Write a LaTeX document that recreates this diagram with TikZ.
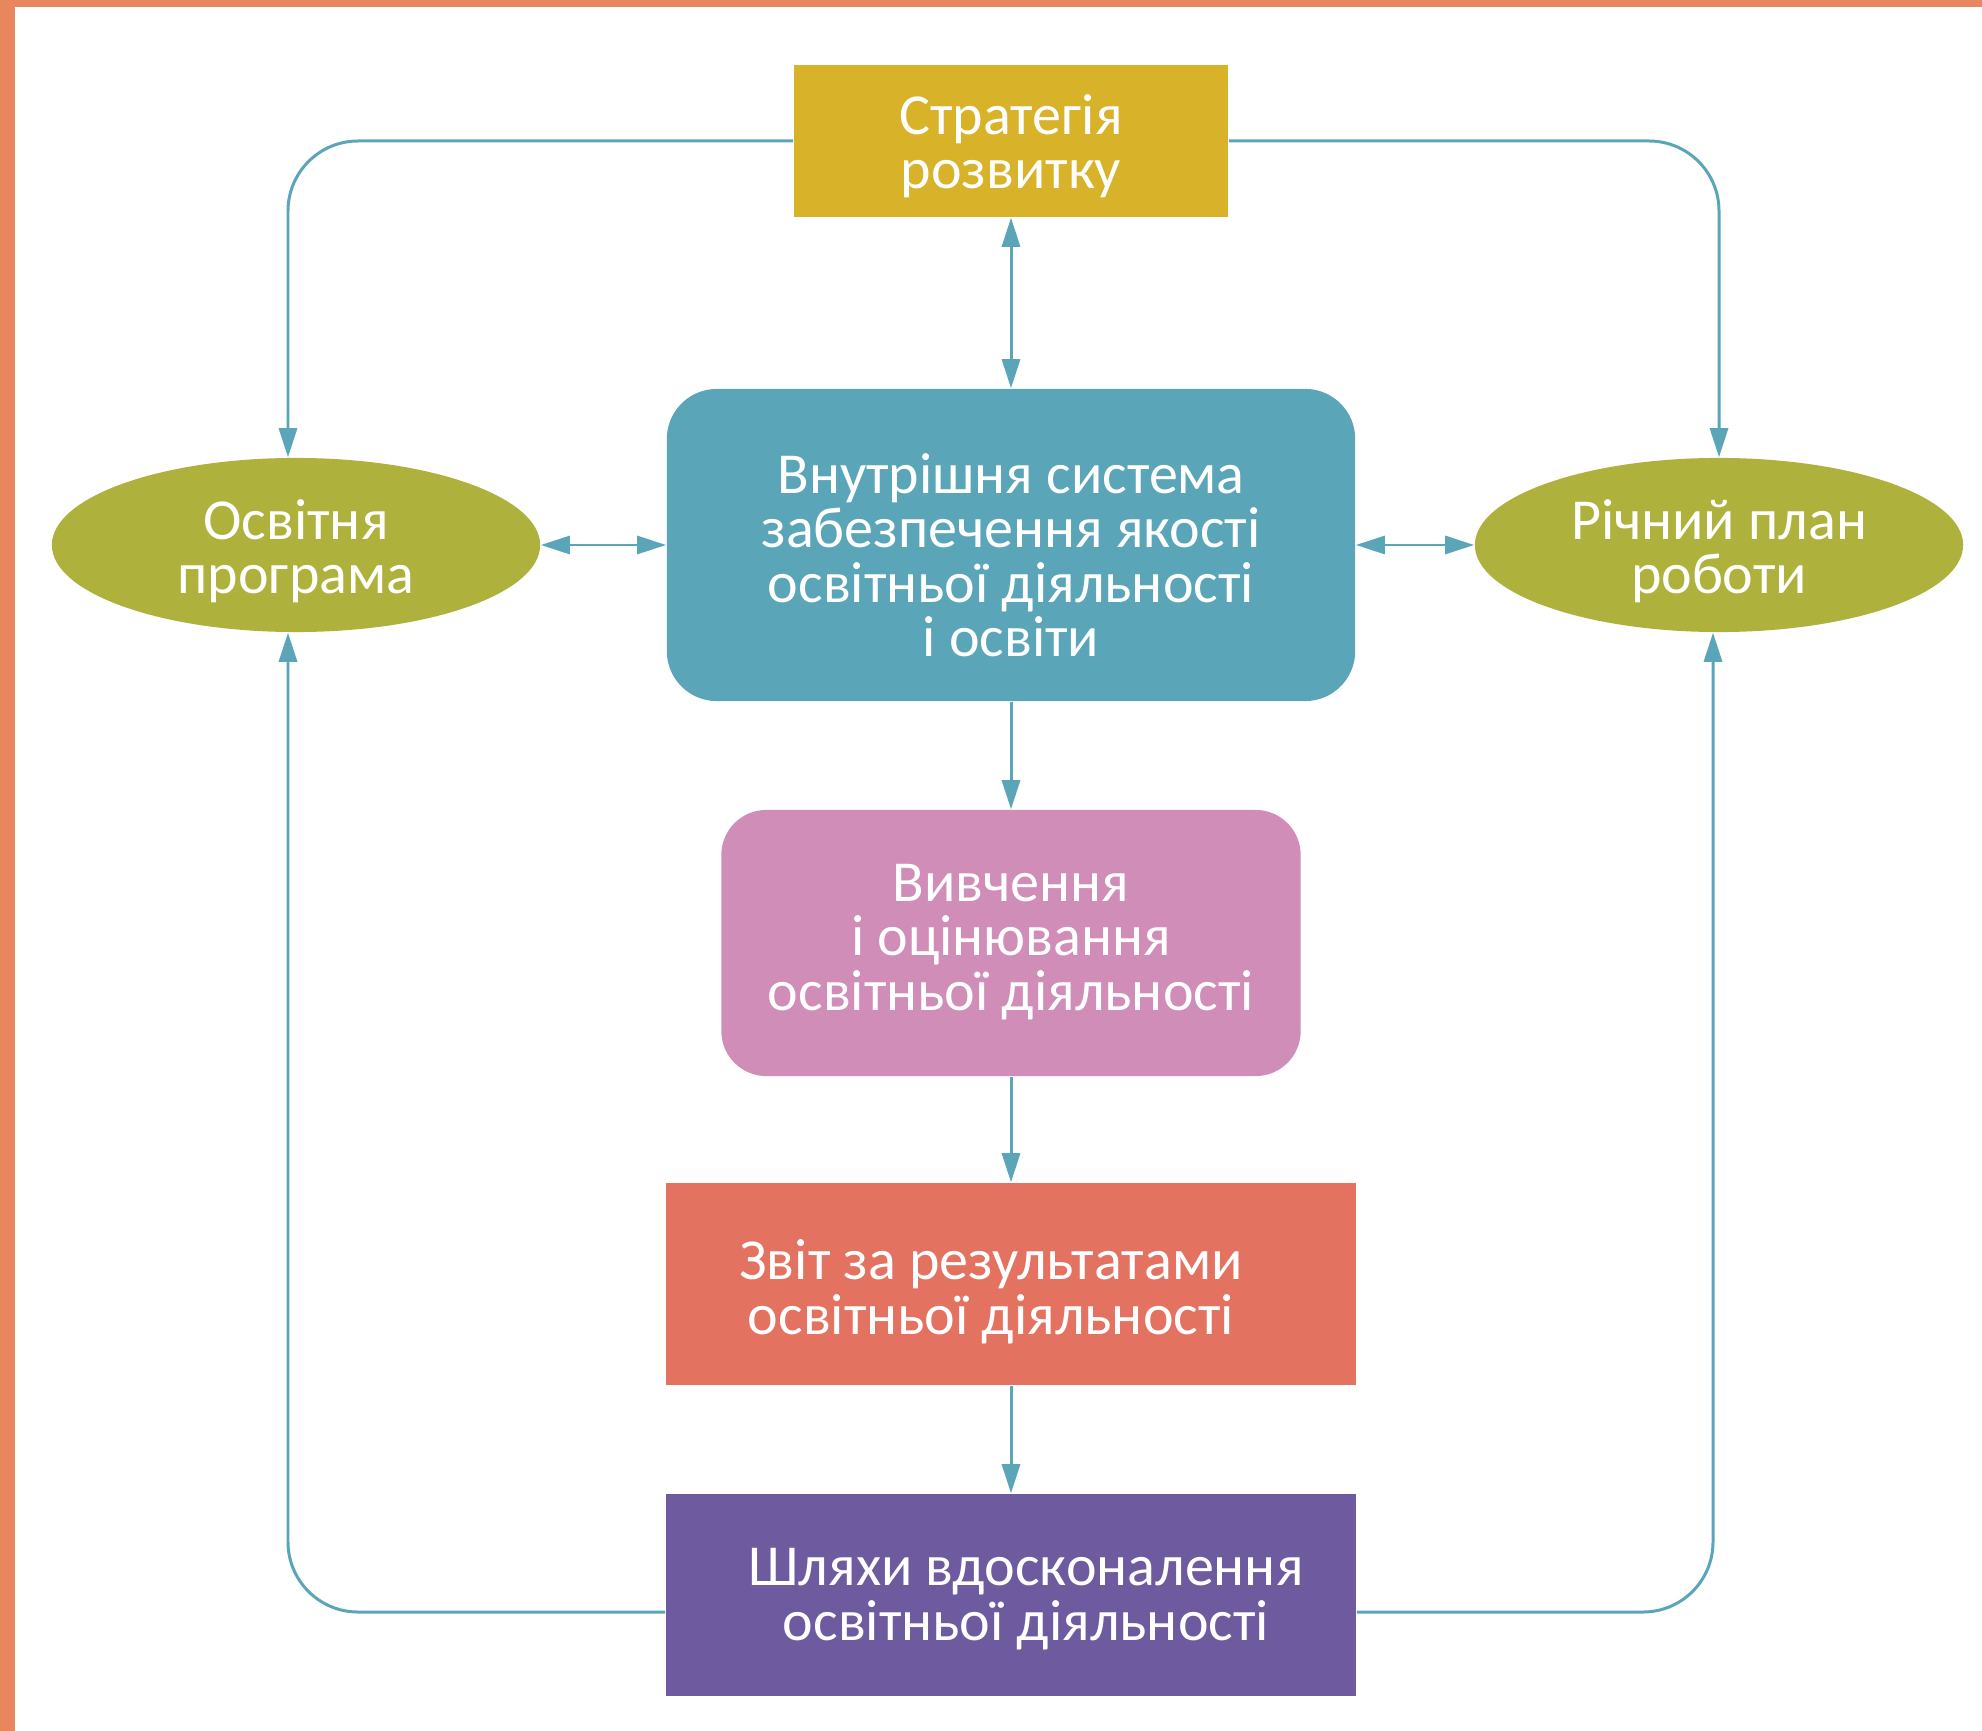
\documentclass[tikz,border=0pt]{standalone}
\usepackage{fontspec}
\setmainfont{Carlito}
\usetikzlibrary{arrows.meta,shapes.geometric}
\definecolor{frameorange}{HTML}{E8875E}
\definecolor{stratyellow}{HTML}{D8B229}
\definecolor{systeal}{HTML}{5AA5B8}
\definecolor{lineteal}{HTML}{5AA5B8}
\definecolor{olive}{HTML}{AFB13D}
\definecolor{pinkbox}{HTML}{CF8DB7}
\definecolor{redbox}{HTML}{E47261}
\definecolor{purplebox}{HTML}{6E5A9E}
\begin{document}
\begin{tikzpicture}[x=0.01cm,y=-0.01cm,
  >={Triangle[length=0.29cm,width=0.18cm]},
  txt/.style={text=white,font=\fontsize{16.5}{15.5}\selectfont,align=center},
  boxnode/.style={draw=none,inner sep=0pt,txt},
  ellnode/.style={ellipse,fill=olive,inner sep=0pt,minimum width=4.88cm,minimum height=1.74cm,txt},
  conn/.style={draw=lineteal,line width=0.85pt},
  loop/.style={conn,rounded corners=0.7cm}]
\useasboundingbox (0,0) rectangle (1982,1731);
\fill[white] (0,0) rectangle (1982,1731);
\fill[frameorange] (0,0) rectangle (1982,7);
\fill[frameorange] (0,0) rectangle (15,1731);

\node[boxnode,fill=stratyellow,minimum width=4.34cm,minimum height=1.52cm,
  label={[txt,yshift=-0.05cm]center:{Стратегія\\розвитку}}] (strat) at (1011,141) {};
\node[boxnode,fill=systeal,rounded corners=0.5cm,minimum width=6.88cm,minimum height=3.12cm,
  label={[txt,yshift=-0.10cm]center:{Внутрішня система\\забезпечення якості\\освітньої діяльності\\і освіти}}] (sys) at (1011,545) {};
\node[ellnode,label={[txt,yshift=-0.06cm]center:{Освітня\\програма}}] (osv) at (296,545) {};
\node[ellnode,label={[txt,yshift=-0.06cm]center:{Річний план\\роботи}}] (plan) at (1719,545) {};
\node[boxnode,fill=pinkbox,rounded corners=0.45cm,minimum width=5.79cm,minimum height=2.66cm,
  label={[txt,yshift=0.01cm]center:{Вивчення\\і оцінювання\\освітньої діяльності}}] (vyv) at (1011,943) {};
\node[boxnode,fill=redbox,minimum width=6.9cm,minimum height=2.02cm,
  label={[txt,xshift=-0.2cm,yshift=-0.08cm]center:{Звіт за результатами\\освітньої діяльності}}] (zvit) at (1011,1284) {};
\node[boxnode,fill=purplebox,minimum width=6.9cm,minimum height=2.02cm,
  label={[txt,xshift=0.15cm,yshift=-0.04cm]center:{Шляхи вдосконалення\\освітньої діяльності}}] (shl) at (1011,1595) {};

\draw[conn,<->] (strat.south) -- (sys.north);
\draw[conn,<->] (osv.east) -- (sys.west);
\draw[conn,<->] (sys.east) -- (plan.west);
\draw[conn,->] (sys.south) -- (vyv.north);
\draw[conn,->] (vyv.south) -- (zvit.north);
\draw[conn,->] (zvit.south) -- (shl.north);

\draw[loop,->] (strat.west) -| ([xshift=-0.08cm]osv.north);
\draw[loop,->] (strat.east) -| (plan.north);
\draw[loop,->] ([yshift=-0.17cm]shl.west) -| ([xshift=-0.08cm]osv.south);
\draw[loop,->] ([yshift=-0.17cm]shl.east) -| ([xshift=-0.06cm]plan.south);
\end{tikzpicture}
\end{document}
